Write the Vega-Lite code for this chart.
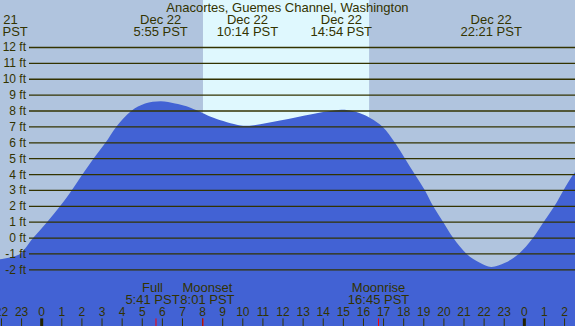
{
  "$schema": "https://vega.github.io/schema/vega-lite/v6.json",
  "width": 575,
  "height": 326,
  "autosize": "none",
  "padding": 0,
  "config": {
    "view": {"fill": "#b0c4de", "stroke": null},
    "text": {"font": "Liberation Sans", "fontSize": 13, "color": "#333300"}
  },
  "datasets": {
    "tide": [
      {"h": -2.5, "ft": -1.33}, {"h": -2.22, "ft": -1.36}, {"h": -2.07, "ft": -1.33},
      {"h": -1.58, "ft": -1.22}, {"h": -1.08, "ft": -1.0}, {"h": -0.43, "ft": 0},
      {"h": 0.26, "ft": 1}, {"h": 0.91, "ft": 2}, {"h": 1.49, "ft": 3}, {"h": 2.02, "ft": 4},
      {"h": 2.57, "ft": 5}, {"h": 3.17, "ft": 6}, {"h": 3.7, "ft": 7}, {"h": 4.45, "ft": 8},
      {"h": 5.14, "ft": 8.47}, {"h": 5.92, "ft": 8.62}, {"h": 6.63, "ft": 8.48},
      {"h": 7.2, "ft": 8.3}, {"h": 7.87, "ft": 7.95}, {"h": 8.37, "ft": 7.65},
      {"h": 9.7, "ft": 7.13}, {"h": 10.23, "ft": 7.07}, {"h": 11.85, "ft": 7.4}, {"h": 13.49, "ft": 7.82},
      {"h": 14.9, "ft": 8.08}, {"h": 15.33, "ft": 8.03}, {"h": 15.83, "ft": 7.86},
      {"h": 16.33, "ft": 7.56}, {"h": 16.96, "ft": 7.0}, {"h": 17.57, "ft": 6},
      {"h": 18.07, "ft": 5}, {"h": 18.56, "ft": 4}, {"h": 19.06, "ft": 3}, {"h": 19.47, "ft": 2},
      {"h": 19.97, "ft": 1}, {"h": 20.47, "ft": 0}, {"h": 21.13, "ft": -1},
      {"h": 21.79, "ft": -1.56}, {"h": 22.35, "ft": -1.82}, {"h": 23.04, "ft": -1.56},
      {"h": 23.72, "ft": -1.0}, {"h": 24.42, "ft": 0}, {"h": 24.95, "ft": 1}, {"h": 25.49, "ft": 2},
      {"h": 25.94, "ft": 3}, {"h": 26.43, "ft": 4}, {"h": 26.7, "ft": 4.4}
    ],
    "grid": [
      {"ft": 12, "label": "12 ft"}, {"ft": 11, "label": "11 ft"}, {"ft": 10, "label": "10 ft"},
      {"ft": 9, "label": "9 ft"}, {"ft": 8, "label": "8 ft"}, {"ft": 7, "label": "7 ft"},
      {"ft": 6, "label": "6 ft"}, {"ft": 5, "label": "5 ft"}, {"ft": 4, "label": "4 ft"},
      {"ft": 3, "label": "3 ft"}, {"ft": 2, "label": "2 ft"}, {"ft": 1, "label": "1 ft"},
      {"ft": 0, "label": "0 ft"}, {"ft": -1, "label": "-1 ft"}, {"ft": -2, "label": "-2 ft"}
    ],
    "hours": [
      {"h": -2, "label": "22"}, {"h": -1, "label": "23"}, {"h": 0, "label": "0"},
      {"h": 1, "label": "1"}, {"h": 2, "label": "2"}, {"h": 3, "label": "3"},
      {"h": 4, "label": "4"}, {"h": 5, "label": "5"}, {"h": 6, "label": "6"},
      {"h": 7, "label": "7"}, {"h": 8, "label": "8"}, {"h": 9, "label": "9"},
      {"h": 10, "label": "10"}, {"h": 11, "label": "11"}, {"h": 12, "label": "12"},
      {"h": 13, "label": "13"}, {"h": 14, "label": "14"}, {"h": 15, "label": "15"},
      {"h": 16, "label": "16"}, {"h": 17, "label": "17"}, {"h": 18, "label": "18"},
      {"h": 19, "label": "19"}, {"h": 20, "label": "20"}, {"h": 21, "label": "21"},
      {"h": 22, "label": "22"}, {"h": 23, "label": "23"}, {"h": 24, "label": "0"},
      {"h": 25, "label": "1"}, {"h": 26, "label": "2"}
    ],
    "extremes": [
      {"h": -2.22, "label": "Dec 21\n21:47 PST"},
      {"h": 5.917, "label": "Dec 22\n5:55 PST"},
      {"h": 10.233, "label": "Dec 22\n10:14 PST"},
      {"h": 14.9, "label": "Dec 22\n14:54 PST"},
      {"h": 22.35, "label": "Dec 22\n22:21 PST"}
    ],
    "moon": [
      {"h": 5.683, "event": "Full", "label": "Full\n5:41 PST"},
      {"h": 8.017, "event": "Moonset", "label": "Moonset\n8:01 PST"},
      {"h": 16.75, "event": "Moonrise", "label": "Moonrise\n16:45 PST"}
    ]
  },
  "layer": [
    {
      "data": {"values": [{"h": 8.02, "h2": 16.28}]},
      "mark": {"type": "rect", "color": "#dff8fe"},
      "encoding": {
        "x": {"field": "h", "type": "quantitative", "scale": {"domain": [-2.0736, 26.519], "nice": false, "zero": false}, "axis": null},
        "x2": {"field": "h2"}
      }
    },
    {
      "data": {"name": "tide"},
      "mark": {"type": "area", "interpolate": "catmull-rom", "color": "#4262d4", "clip": true},
      "encoding": {
        "x": {"field": "h", "type": "quantitative", "scale": {"domain": [-2.0736, 26.519], "nice": false, "zero": false}, "axis": null},
        "y": {"field": "ft", "type": "quantitative", "scale": {"domain": [-5.538, 14.991], "nice": false, "zero": false}, "axis": null},
        "y2": {"datum": -5.538}
      }
    },
    {
      "data": {"name": "grid"},
      "mark": {"type": "rule", "color": "#333300", "strokeWidth": 1.3},
      "encoding": {
        "x": {"datum": -0.632, "type": "quantitative", "scale": {"domain": [-2.0736, 26.519], "nice": false, "zero": false}, "axis": null},
        "x2": {"datum": 26.6},
        "y": {"field": "ft", "type": "quantitative", "scale": {"domain": [-5.538, 14.991], "nice": false, "zero": false}, "axis": null}
      }
    },
    {
      "data": {"name": "grid"},
      "mark": {"type": "text", "align": "right", "baseline": "middle", "fontSize": 12},
      "encoding": {
        "x": {"datum": -0.78, "type": "quantitative", "scale": {"domain": [-2.0736, 26.519], "nice": false, "zero": false}, "axis": null},
        "y": {"field": "ft", "type": "quantitative", "scale": {"domain": [-5.538, 14.991], "nice": false, "zero": false}, "axis": null},
        "text": {"field": "label"}
      }
    },
    {
      "data": {"values": [{"t": "Anacortes, Guemes Channel, Washington"}]},
      "mark": {"type": "text", "align": "center", "baseline": "alphabetic"},
      "encoding": {
        "x": {"datum": 12.22, "type": "quantitative", "scale": {"domain": [-2.0736, 26.519], "nice": false, "zero": false}, "axis": null},
        "y": {"datum": 14.23, "type": "quantitative", "scale": {"domain": [-5.538, 14.991], "nice": false, "zero": false}, "axis": null},
        "text": {"field": "t"}
      }
    },
    {
      "data": {"name": "extremes"},
      "mark": {"type": "text", "align": "center", "baseline": "alphabetic", "lineBreak": "\n", "lineHeight": 12},
      "encoding": {
        "x": {"field": "h", "type": "quantitative", "scale": {"domain": [-2.0736, 26.519], "nice": false, "zero": false}, "axis": null},
        "y": {"datum": 13.47, "type": "quantitative", "scale": {"domain": [-5.538, 14.991], "nice": false, "zero": false}, "axis": null},
        "text": {"field": "label"}
      }
    },
    {
      "data": {"name": "hours"},
      "mark": {"type": "text", "align": "center", "baseline": "alphabetic", "fontSize": 12},
      "encoding": {
        "x": {"field": "h", "type": "quantitative", "scale": {"domain": [-2.0736, 26.519], "nice": false, "zero": false}, "axis": null},
        "y": {"datum": -4.93, "type": "quantitative", "scale": {"domain": [-5.538, 14.991], "nice": false, "zero": false}, "axis": null},
        "text": {"field": "label"}
      }
    },
    {
      "data": {"name": "hours"},
      "transform": [{"filter": "datum.h != 0 && datum.h != 24"}],
      "mark": {"type": "rule", "color": "#333300", "strokeWidth": 1},
      "encoding": {
        "x": {"field": "h", "type": "quantitative", "scale": {"domain": [-2.0736, 26.519], "nice": false, "zero": false}, "axis": null},
        "y": {"datum": -5.06, "type": "quantitative", "scale": {"domain": [-5.538, 14.991], "nice": false, "zero": false}, "axis": null},
        "y2": {"datum": -5.538}
      }
    },
    {
      "data": {"name": "hours"},
      "transform": [{"filter": "datum.h == 0 || datum.h == 24"}],
      "mark": {"type": "rule", "color": "#222200", "strokeWidth": 3},
      "encoding": {
        "x": {"field": "h", "type": "quantitative", "scale": {"domain": [-2.0736, 26.519], "nice": false, "zero": false}, "axis": null},
        "y": {"datum": -5.06, "type": "quantitative", "scale": {"domain": [-5.538, 14.991], "nice": false, "zero": false}, "axis": null},
        "y2": {"datum": -5.538}
      }
    },
    {
      "data": {"name": "moon"},
      "mark": {"type": "rule", "color": "#ff0000", "strokeWidth": 1},
      "encoding": {
        "x": {"field": "h", "type": "quantitative", "scale": {"domain": [-2.0736, 26.519], "nice": false, "zero": false}, "axis": null},
        "y": {"datum": -5.06, "type": "quantitative", "scale": {"domain": [-5.538, 14.991], "nice": false, "zero": false}, "axis": null},
        "y2": {"datum": -5.538}
      }
    },
    {
      "data": {"name": "moon"},
      "transform": [{"filter": "datum.event == 'Full'"}],
      "mark": {"type": "text", "align": "center", "baseline": "alphabetic", "lineBreak": "\n", "lineHeight": 12, "dx": -3.5},
      "encoding": {
        "x": {"field": "h", "type": "quantitative", "scale": {"domain": [-2.0736, 26.519], "nice": false, "zero": false}, "axis": null},
        "y": {"datum": -3.4, "type": "quantitative", "scale": {"domain": [-5.538, 14.991], "nice": false, "zero": false}, "axis": null},
        "text": {"field": "label"}
      }
    },
    {
      "data": {"name": "moon"},
      "transform": [{"filter": "datum.event == 'Moonset'"}],
      "mark": {"type": "text", "align": "center", "baseline": "alphabetic", "lineBreak": "\n", "lineHeight": 12, "dx": 4.5},
      "encoding": {
        "x": {"field": "h", "type": "quantitative", "scale": {"domain": [-2.0736, 26.519], "nice": false, "zero": false}, "axis": null},
        "y": {"datum": -3.4, "type": "quantitative", "scale": {"domain": [-5.538, 14.991], "nice": false, "zero": false}, "axis": null},
        "text": {"field": "label"}
      }
    },
    {
      "data": {"name": "moon"},
      "transform": [{"filter": "datum.event == 'Moonrise'"}],
      "mark": {"type": "text", "align": "center", "baseline": "alphabetic", "lineBreak": "\n", "lineHeight": 12},
      "encoding": {
        "x": {"field": "h", "type": "quantitative", "scale": {"domain": [-2.0736, 26.519], "nice": false, "zero": false}, "axis": null},
        "y": {"datum": -3.4, "type": "quantitative", "scale": {"domain": [-5.538, 14.991], "nice": false, "zero": false}, "axis": null},
        "text": {"field": "label"}
      }
    }
  ]
}
